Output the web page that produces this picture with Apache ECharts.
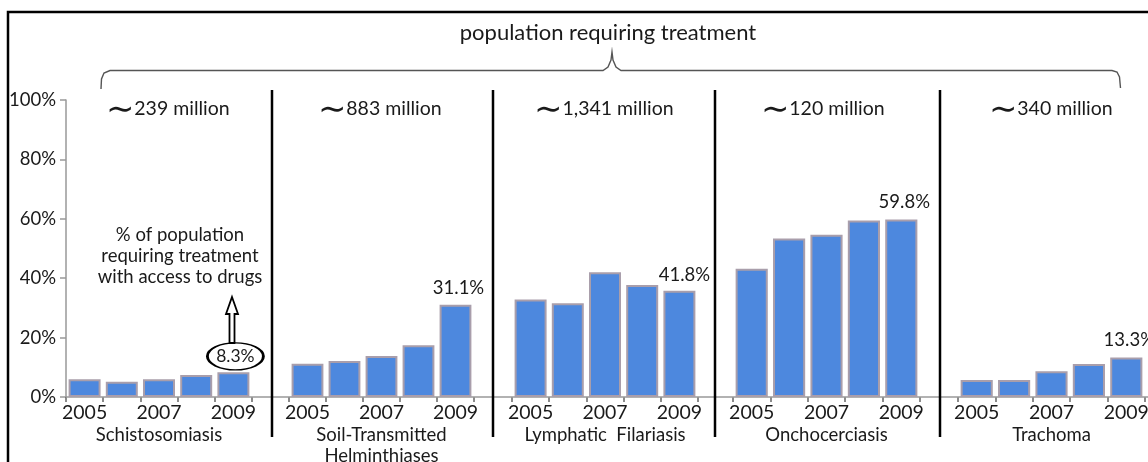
<!DOCTYPE html>
<html>
<head>
<meta charset="utf-8">
<style>
  html, body { margin: 0; padding: 0; background: #fff; }
  #chart { width: 1148px; height: 462px; }
</style>
<script src="https://cdn.jsdelivr.net/npm/echarts@6/dist/echarts.min.js"></script>
</head>
<body>
<div id="chart"></div>
<script>
var years = ['2005', '2006', '2007', '2008', '2009']
var diseases = ['Schistosomiasis', 'Soil-Transmitted\nHelminthiases', 'Lymphatic  Filariasis', 'Onchocerciasis', 'Trachoma']
var populations = ['239 million', '883 million', '1,341 million', '120 million', '340 million']

// % of population requiring treatment with access to drugs
var schisto = [6.0, 5.1, 6.0, 7.4, 8.3]
var soilTrans = [11.2, 12.1, 13.8, 17.4, 31.1]
var lymphatic = [32.8, 31.6, 42.0, 37.7, 35.8]
var oncho = [43.2, 53.4, 54.6, 59.4, 59.8]
var trachoma = [5.7, 5.7, 8.7, 11.1, 13.3]
var callouts = ['8.3%', '31.1%', '41.8%', '59.8%', '13.3%']
var calloutValues = [8.3, 31.1, 41.8, 59.8, 13.3]

var panels = [schisto, soilTrans, lymphatic, oncho, trachoma]
var gridLeft = [66, 289, 512, 733, 958]
var gridWidth = [186, 185, 186, 187, 187]
var popCenters = [168, 380, 604, 823, 1051]
var dividers = [272, 493, 715, 940]

var font = 'Lato, "Open Sans", sans-serif'
var textColor = '#1a1a1a'

var chart = echarts.init(document.getElementById('chart'))

var grids = []
var xAxes = []
var yAxes = []
var series = []

panels.forEach(function(data, i) {
  grids.push({ left: gridLeft[i], width: gridWidth[i], top: 100, height: 297, outerBoundsMode: 'none' })
  xAxes.push({
    gridIndex: i,
    type: 'category',
    data: years,
    name: diseases[i],
    nameLocation: 'middle',
    nameGap: 28,
    nameMoveOverlap: false,
    nameTextStyle: { fontFamily: font, fontSize: 18.5, color: textColor, lineHeight: 21 },
    axisLine: { show: false },
    axisTick: { show: true, length: 5, interval: 0, lineStyle: { color: '#666', width: 1.5 } },
    axisLabel: { interval: 1, margin: 6, fontFamily: font, fontSize: 19.5, color: textColor }
  })
  yAxes.push({
    gridIndex: i,
    type: 'value',
    min: 0,
    max: 100,
    interval: 20,
    show: i === 0,
    splitLine: { show: false },
    axisLine: { show: true, lineStyle: { color: '#999', width: 1.5 } },
    axisTick: { show: true, length: 6, lineStyle: { color: '#999', width: 1.5 } },
    axisLabel: { formatter: '{value}%', margin: 10, fontFamily: font, fontSize: 18.5, color: textColor }
  })
  var mark = {
    coord: ['2009', calloutValues[i]],
    symbol: 'circle',
    symbolSize: 1,
    itemStyle: { color: 'rgba(0,0,0,0)' },
    label: {
      show: true,
      position: 'inside',
      formatter: callouts[i],
      fontFamily: font,
      fontSize: 18.5,
      color: textColor
    }
  }
  if (i === 0) {
    mark.symbolSize = [56, 27]
    mark.symbolOffset = [2, -16]
    mark.itemStyle = { color: '#fff', borderColor: '#000', borderWidth: 2 }
    mark.label.fontSize = 17.5
  } else if (i === 2) {
    mark.label.offset = [5, 2]
  } else {
    mark.label.offset = [3, -17]
  }
  series.push({
    type: 'bar',
    xAxisIndex: i,
    yAxisIndex: i,
    data: data,
    barCategoryGap: '14%',
    itemStyle: { color: '#4d88de', borderColor: '#a99eab', borderWidth: 2 },
    markPoint: { silent: true, data: [mark] }
  })
})

var graphics = [
  // frame
  { type: 'rect', shape: { x: 8, y: 12, width: 1300, height: 600 }, style: { fill: 'none', stroke: '#000', lineWidth: 2.5 }, z: 10 },
  // continuous x baseline
  { type: 'line', shape: { x1: 66, y1: 397, x2: 1148, y2: 397 }, style: { stroke: '#999', lineWidth: 1.5 }, z: 1 },
  // brace
  {
    type: 'polyline',
    shape: { points: [[101, 89], [101.5, 79], [104, 73], [110, 70.5], [603, 70.5], [608, 67], [611, 60], [612, 52], [613, 60], [616, 67], [621, 70.5], [1112, 70.5], [1117, 72], [1119.5, 77], [1120.5, 88]] },
    style: { stroke: '#555', lineWidth: 1.4, fill: 'none' }
  },
  {
    type: 'text', x: 608, y: 33,
    style: { text: 'population requiring treatment', fontFamily: font, fontSize: 22, fill: textColor, align: 'center', verticalAlign: 'middle' }
  },
  {
    type: 'text', x: 180, y: 256,
    style: { text: '% of population\nrequiring treatment\nwith access to drugs', fontFamily: font, fontSize: 18.5, lineHeight: 21, fill: textColor, align: 'center', verticalAlign: 'middle' }
  },
  // arrow from callout to note
  {
    type: 'polygon',
    shape: { points: [[232, 297], [238, 314], [234.5, 314], [234.5, 343], [229.5, 343], [229.5, 314], [226, 314]] },
    style: { fill: '#fff', stroke: '#000', lineWidth: 1.8 }, z: 20
  }
]

populations.forEach(function(p, i) {
  graphics.push({
    type: 'text', x: popCenters[i], y: 109,
    style: {
      text: '{t|\u223C}' + p,
      fontFamily: font, fontSize: 19.5, fill: textColor, align: 'center', verticalAlign: 'middle',
      rich: { t: { fontFamily: font, fontSize: 34, fill: textColor, lineHeight: 22 } }
    }
  })
})

dividers.forEach(function(x) {
  graphics.push({ type: 'line', shape: { x1: x, y1: 90, x2: x, y2: 437 }, style: { stroke: '#000', lineWidth: 2.5 }, z: 10 })
})

chart.setOption({
  animation: false,
  grid: grids,
  xAxis: xAxes,
  yAxis: yAxes,
  series: series,
  graphic: graphics
})
</script>
</body>
</html>
